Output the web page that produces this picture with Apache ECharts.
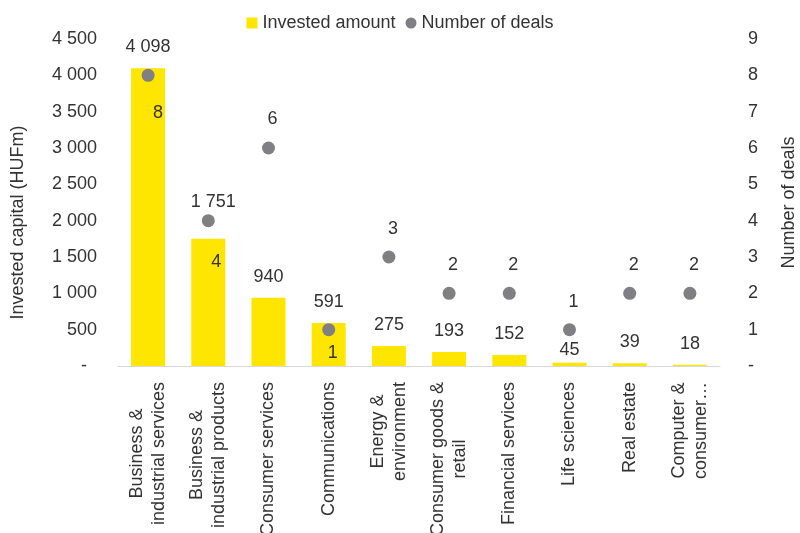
<!DOCTYPE html>
<html>
<head>
<meta charset="utf-8">
<script src="https://cdn.jsdelivr.net/npm/echarts@6/dist/echarts.min.js"></script>
<style>
html,body{margin:0;padding:0;background:#fff;}
#chart{width:800px;height:533px;}
</style>
</head>
<body>
<div id="chart"></div>
<script>
const categories = [
  "Business &\nindustrial services",
  "Business &\nindustrial products",
  "Consumer services",
  "Communications",
  "Energy &\nenvironment",
  "Consumer goods &\nretail",
  "Financial services",
  "Life sciences",
  "Real estate",
  "Computer &\nconsumer…"
];
const investedAmount = [4098, 1751, 940, 591, 275, 193, 152, 45, 39, 18];
const numberOfDeals = [8, 4, 6, 1, 3, 2, 2, 1, 2, 2];
const leftTicks = [0, 500, 1000, 1500, 2000, 2500, 3000, 3500, 4000, 4500];
const rightTicks = [0, 1, 2, 3, 4, 5, 6, 7, 8, 9];

const textColor = '#333333';
const fontFamily = 'Liberation Sans, Arial, sans-serif';
function fmtThousands(v) {
  return String(v).replace(/\B(?=(\d{3})+(?!\d))/g, ' ');
}

// label placement tweaks (style, not data)
const barLabelOffsets = [[0,0],[5,-16],[0,0],[0,0],[0,0],[0,0],[0,0],[0,8],[0,0],[0,0]];
const dealLabelOffsets = [[10,38],[8,41],[4,-29],[4,23],[4,-28],[4,-28],[4,-28],[4,-28],[4,-28],[4,-28]];

const chart = echarts.init(document.getElementById('chart'), null, {renderer: 'canvas'});
const option = {
  animation: false,
  textStyle: {fontFamily: fontFamily, color: textColor},
  legend: {
    top: 9,
    left: 'center',
    itemWidth: 11,
    itemHeight: 11,
    itemGap: 10,
    textStyle: {fontSize: 18, color: textColor, fontFamily: fontFamily},
    data: [
      {name: 'Invested amount', icon: 'rect'},
      {name: 'Number of deals', icon: 'circle'}
    ]
  },
  grid: {left: 118, right: 80, top: 39, bottom: 167, containLabel: false, outerBoundsMode: 'none'},
  xAxis: {
    type: 'category',
    data: categories,
    axisLine: {show: true, lineStyle: {color: '#D9D9D9', width: 1}},
    axisTick: {show: false},
    axisLabel: {
      interval: 0,
      rotate: 90,
      margin: 16,
      formatter: function (v) {
        return v.split('\n').map(s => '{c|' + s + '}').join('\n');
      },
      rich: {
        c: {align: 'center', fontSize: 18, lineHeight: 22, color: textColor, fontFamily: fontFamily}
      }
    }
  },
  yAxis: [
    {
      type: 'value',
      min: leftTicks[0],
      max: leftTicks[leftTicks.length - 1],
      interval: leftTicks[1] - leftTicks[0],
      name: 'Invested capital (HUFm)',
      nameLocation: 'middle',
      nameGap: 91,
      nameRotate: 90,
      nameTextStyle: {fontSize: 18, color: textColor, fontFamily: fontFamily, padding: [0, 40, 0, 0]},
      axisLine: {show: false},
      axisTick: {show: false},
      splitLine: {show: false},
      axisLabel: {
        fontSize: 18, color: textColor, margin: 21,
        formatter: function (v) { return v === 0 ? '-  ' : fmtThousands(v); }
      }
    },
    {
      type: 'value',
      min: rightTicks[0],
      max: rightTicks[rightTicks.length - 1],
      interval: rightTicks[1] - rightTicks[0],
      name: 'Number of deals',
      nameLocation: 'middle',
      nameGap: 60,
      nameRotate: 90,
      nameTextStyle: {fontSize: 18, color: textColor, fontFamily: fontFamily},
      axisLine: {show: false},
      axisTick: {show: false},
      splitLine: {show: false},
      axisLabel: {
        fontSize: 18, color: textColor, margin: 28,
        formatter: function (v) { return v === 0 ? '-' : String(v); }
      }
    }
  ],
  series: [
    {
      name: 'Invested amount',
      type: 'bar',
      yAxisIndex: 0,
      barWidth: 34,
      itemStyle: {color: '#FFE600'},
      label: {
        show: true,
        position: 'top',
        distance: 12,
        fontSize: 18,
        color: textColor,
        formatter: p => fmtThousands(p.value)
      },
      data: investedAmount.map((v, i) => ({value: v, label: {offset: barLabelOffsets[i]}})),
      z: 2
    },
    {
      name: 'Number of deals',
      type: 'scatter',
      yAxisIndex: 1,
      symbol: 'circle',
      symbolSize: 13,
      itemStyle: {color: '#7F7F84', opacity: 1},
      label: {
        show: true,
        position: 'inside',
        fontSize: 18,
        color: textColor,
        opacity: 1,
        formatter: p => String(p.value)
      },
      data: numberOfDeals.map((v, i) => ({value: v, label: {offset: dealLabelOffsets[i]}})),
      z: 3
    }
  ]
};
chart.setOption(option);
</script>
</body>
</html>
